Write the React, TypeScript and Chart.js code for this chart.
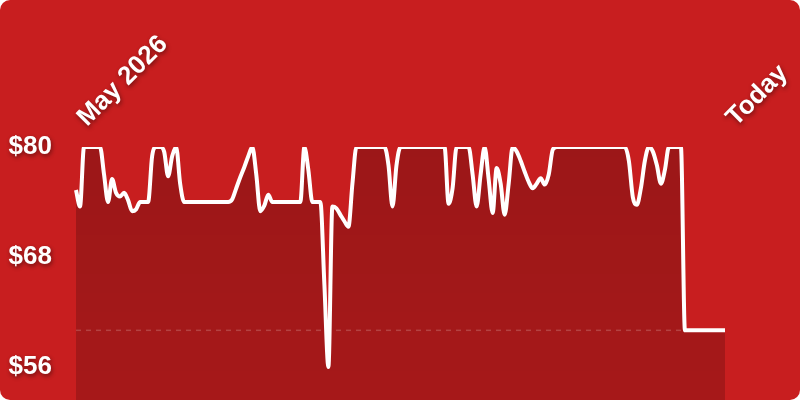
import { useEffect, useRef } from 'react';
import { Chart, registerables } from 'chart.js';

Chart.register(...registerables);

// daily price, first day of May 2026 through today
const prices: number[] = [
    75.3, 73.5, 80, 80, 80, 80, 80, 77, 74, 76.5,
    75, 74.6, 75, 74.2, 73, 73.2, 74, 74, 74, 79,
    80, 80, 79.5, 76.8, 79, 80, 76, 74, 74, 74,
    74, 74, 74, 74, 74, 74, 74, 74, 74, 74.3,
    75.5, 76.7, 77.8, 79, 80, 77, 73, 73.6, 74.8, 74,
    74, 74, 74, 74, 74, 74, 74, 80, 77.5, 74,
    74, 74, 65, 56, 73.5, 73.3, 72.6, 71.9, 71.3, 76,
    80, 80, 80, 80, 80, 80, 80, 80, 78, 73.5,
    78, 80, 80, 80, 80, 80, 80, 80, 80, 80,
    80, 80, 80, 73.8, 75.5, 80, 80, 80, 80, 77,
    73.5, 77, 80, 76.5, 72.8, 77.7, 76, 72.6, 76, 80,
    79.5, 78.5, 77.3, 76.2, 75.5, 76, 76.6, 75.9, 77, 79.7,
    80, 80, 80, 80, 80, 80, 80, 80, 80, 80,
    80, 80, 80, 80, 80, 80, 80, 80, 78.5, 74.5,
    73.7, 75.5, 78.5, 80, 79.5, 78, 76, 77.5, 80, 80,
    80, 80, 60, 60, 60, 60, 60, 60, 60, 60,
    60, 60, 60,
];
const days = prices.map((_, i) => i);
const xTickLabels = ['May 2026', 'Today'];
const yTicks = [56, 68, 80];
const yMin = 52.4;
const yMax = 80;
const lastPrice = prices[prices.length - 1];

const labelFont = { family: "'Liberation Sans', Arial, sans-serif", size: 26, weight: 'bold' as const };

const labelShadow = {
    id: 'labelShadow',
    beforeDraw(chart: any) {
        const ctx = chart.ctx;
        ctx.save();
        ctx.shadowColor = 'rgba(0, 0, 0, 0.45)';
        ctx.shadowBlur = 4;
        ctx.shadowOffsetX = 1;
        ctx.shadowOffsetY = 2;
    },
    beforeDatasetsDraw(chart: any) {
        chart.ctx.restore();
    },
};

// dashed line at the current price, under the white line
const priceLine = {
    id: 'priceLine',
    beforeDatasetDraw(chart: any) {
        const { ctx, chartArea, scales } = chart;
        const y = scales.y.getPixelForValue(lastPrice);
        ctx.save();
        ctx.setLineDash([5, 5]);
        ctx.strokeStyle = 'rgba(255, 255, 255, 0.18)';
        ctx.lineWidth = 1.5;
        ctx.beginPath();
        ctx.moveTo(chartArea.left, y);
        ctx.lineTo(chartArea.right, y);
        ctx.stroke();
        ctx.restore();
    },
};

const PriceChart = () => {
    const chartRef = useRef<HTMLCanvasElement>(null);

    useEffect(() => {
        const ctx = chartRef.current!.getContext('2d')!;
        const chart = new Chart(ctx, {
            type: 'line',
            data: {
                labels: days,
                datasets: [{
                    data: prices,
                    borderColor: '#ffffff',
                    borderWidth: 4,
                    borderJoinStyle: 'round',
                    pointRadius: 0,
                    cubicInterpolationMode: 'monotone',
                    fill: 'start',
                    backgroundColor: (context: any) => {
                        const { chart } = context;
                        const area = chart.chartArea;
                        if (!area) return 'rgba(0, 0, 0, 0.2)';
                        const g = chart.ctx.createLinearGradient(0, area.top, 0, area.bottom);
                        g.addColorStop(0, 'rgba(0, 0, 0, 0.22)');
                        g.addColorStop(1, 'rgba(0, 0, 0, 0.17)');
                        return g;
                    },
                }]
            },
            options: {
                responsive: false,
                animation: false,
                layout: { padding: { top: 0, right: 75, bottom: 0, left: 0 } },
                plugins: {
                    legend: { display: false },
                    tooltip: { enabled: false },
                },
                scales: {
                    x: {
                        position: 'top',
                        grid: { display: false, drawTicks: false },
                        border: { display: false },
                        afterBuildTicks: (scale: any) => {
                            scale.ticks = [{ value: 0 }, { value: prices.length - 1 }];
                        },
                        afterFit: (scale: any) => {
                            scale.height = 147;
                            scale.paddingLeft = 0;
                            scale.paddingRight = 0;
                        },
                        ticks: {
                            autoSkip: false,
                            minRotation: 45,
                            maxRotation: 45,
                            padding: 14,
                            labelOffset: 28,
                            color: '#ffffff',
                            font: labelFont,
                            callback: (_v: any, i: number) => xTickLabels[i],
                        },
                    },
                    y: {
                        min: yMin,
                        max: yMax,
                        grid: { display: false, drawTicks: false },
                        border: { display: false },
                        afterBuildTicks: (scale: any) => {
                            scale.ticks = yTicks.map(v => ({ value: v }));
                        },
                        afterFit: (scale: any) => {
                            scale.width = 76;
                            scale.paddingTop = 0;
                            scale.paddingBottom = 0;
                        },
                        ticks: {
                            padding: 24,
                            color: '#ffffff',
                            font: labelFont,
                            callback: (v: any) => '$' + v,
                        },
                    },
                },
            },
            plugins: [labelShadow, priceLine],
        } as any);

        return () => {
            chart.destroy();
        };
    }, []);

    return (
        <div style={{
            position: 'fixed', left: 0, top: 0, width: 800, height: 400,
            borderRadius: 10, overflow: 'hidden', background: '#c81e1f',
        }}>
            <canvas ref={chartRef} width={800} height={400}></canvas>
        </div>
    );
};

export default PriceChart;
